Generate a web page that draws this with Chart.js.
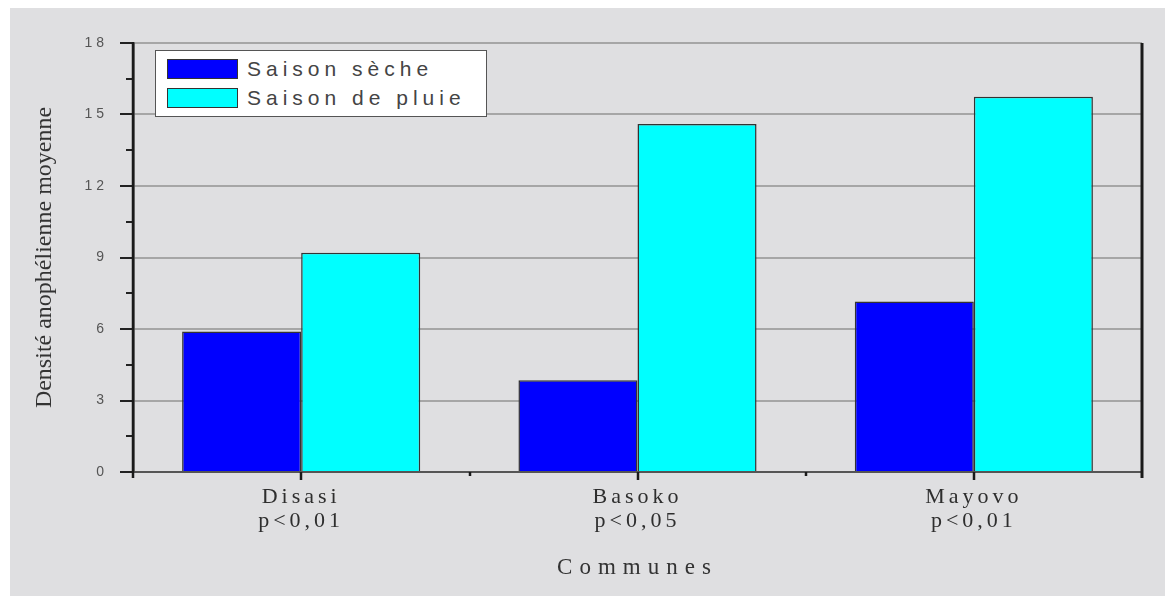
<!DOCTYPE html>
<html lang="fr">
<head>
  <meta charset="UTF-8">
  <title>Densité anophélienne moyenne par commune</title>
  <script src="https://cdn.jsdelivr.net/npm/chart.js"></script>
  <style>
    html, body { margin: 0; padding: 0; background: #fff; }
    .wrap { position: relative; width: 1175px; height: 599px; }
    #legend {
      position: absolute;
      left: 155px; top: 50px;
      width: 332px; height: 67px;
      box-sizing: border-box;
      background: #fff;
      border: 1.5px solid #555;
      padding: 8px 0 0 11px;
    }
    .row { display: flex; align-items: center; height: 20px; margin-bottom: 9px; }
    .sw { width: 71px; height: 20px; box-sizing: border-box; border: 1.5px solid #333; margin-right: 9px; }
    .row span {
      font-family: "Liberation Sans", Arial, sans-serif;
      font-size: 21px; letter-spacing: 5px; color: #444; line-height: 20px;
    }
  </style>
</head>
<body>
<div class="wrap">
  <canvas id="chart" width="1175" height="599"></canvas>
  <div id="legend"></div>
</div>

<script>
// données
const communes = ['Disasi', 'Basoko', 'Mayovo'];
const pValeurs = ['p<0,01', 'p<0,05', 'p<0,01'];
const saisonSeche = [5.9, 3.85, 7.15];
const saisonPluie = [9.2, 14.6, 15.75];
const yTicks = [0, 3, 6, 9, 12, 15, 18];

const couleurs = ['#0000ff', '#00ffff'];
const series = ['Saison sèche', 'Saison de pluie'];

// espacement des lettres pour les textes d'axes
function spacing(scale, labelsLs, titleLs) {
  if (scale._lsDone) return;
  scale._lsDone = true;
  const ctx = scale.ctx;
  const dl = scale.drawLabels, dt = scale.drawTitle;
  scale.drawLabels = function (a) { ctx.save(); ctx.letterSpacing = labelsLs; dl.call(this, a); ctx.restore(); };
  scale.drawTitle = function (a) { ctx.save(); ctx.letterSpacing = titleLs; dt.call(this, a); ctx.restore(); };
}

const decor = {
  id: 'decor',
  beforeDraw(chart) {
    const ctx = chart.ctx;
    ctx.save();
    ctx.fillStyle = '#ffffff';
    ctx.fillRect(0, 0, chart.width, chart.height);
    ctx.fillStyle = '#dfdfe1';
    ctx.fillRect(10, 8, 1155, 588);
    ctx.restore();
    spacing(chart.scales.y, '4px', '0px');
    spacing(chart.scales.x, '4px', '7px');
  },
  afterDraw(chart) {
    const ctx = chart.ctx, a = chart.chartArea;
    const x = chart.scales.x, y = chart.scales.y;
    ctx.save();
    // petites graduations y
    ctx.strokeStyle = '#222';
    ctx.lineWidth = 2;
    for (let i = 0; i < yTicks.length - 1; i++) {
      const py = Math.round(y.getPixelForValue((yTicks[i] + yTicks[i + 1]) / 2));
      ctx.beginPath(); ctx.moveTo(a.left - 7, py); ctx.lineTo(a.left, py); ctx.stroke();
    }
    // axe x
    ctx.strokeStyle = '#555';
    ctx.lineWidth = 2;
    ctx.beginPath(); ctx.moveTo(a.left, a.bottom); ctx.lineTo(a.right, a.bottom); ctx.stroke();
    ctx.strokeStyle = '#1a1a1a';
    ctx.lineWidth = 2.5;
    communes.forEach((c, i) => {
      const px = Math.round(x.getPixelForValue(i));
      ctx.beginPath(); ctx.moveTo(px, a.bottom); ctx.lineTo(px, a.bottom + 8); ctx.stroke();
      if (i > 0) {
        const bx = Math.round((x.getPixelForValue(i - 1) + px) / 2);
        ctx.beginPath(); ctx.moveTo(bx, a.bottom); ctx.lineTo(bx, a.bottom + 4); ctx.stroke();
      }
    });
    // axes gauche et droit
    ctx.lineWidth = 2.5;
    ctx.beginPath(); ctx.moveTo(a.left, a.top); ctx.lineTo(a.left, a.bottom + 6); ctx.stroke();
    ctx.lineWidth = 3;
    ctx.beginPath(); ctx.moveTo(a.right, a.top); ctx.lineTo(a.right, a.bottom + 6); ctx.stroke();
    ctx.restore();
  }
};

const chart = new Chart(document.getElementById('chart'), {
  type: 'bar',
  data: {
    labels: communes.map((c, i) => [c, pValeurs[i]]),
    datasets: [
      { label: series[0], data: saisonSeche, backgroundColor: couleurs[0] },
      { label: series[1], data: saisonPluie, backgroundColor: couleurs[1] }
    ]
  },
  options: {
    responsive: false,
    animation: false,
    layout: { padding: { left: 30, top: 43, right: 33, bottom: 17 } },
    datasets: {
      bar: { categoryPercentage: 0.708, barPercentage: 1.0, borderColor: '#333', borderWidth: 1.5 }
    },
    plugins: {
      legend: { display: false },
      tooltip: { enabled: false }
    },
    scales: {
      x: {
        grid: { display: false, drawTicks: false },
        border: { display: false },
        afterFit(s) { s.height = 110; },
        ticks: {
          padding: 13,
          color: '#2e2e2e',
          font: { family: '"Liberation Serif", serif', size: 22, lineHeight: 1.1 }
        },
        title: {
          display: true,
          text: 'Communes',
          color: '#333',
          padding: 0,
          font: { family: '"Liberation Serif", serif', size: 23 }
        }
      },
      y: {
        min: yTicks[0],
        max: yTicks[yTicks.length - 1],
        afterBuildTicks(s) { s.ticks = yTicks.map(v => ({ value: v })); },
        afterFit(s) { s.width = 103; },
        grid: { color: '#a6a6a6', lineWidth: 2, tickColor: '#222', tickLength: 13 },
        border: { display: true, color: '#1a1a1a', width: 2.5 },
        ticks: {
          padding: 12,
          color: '#555',
          font: { family: '"Liberation Sans", Arial, sans-serif', size: 14 }
        },
        title: {
          display: true,
          text: 'Densité anophélienne moyenne',
          color: '#333',
          padding: 0,
          font: { family: '"Liberation Serif", serif', size: 24 }
        }
      }
    }
  },
  plugins: [decor]
});

// légende
const leg = document.getElementById('legend');
chart.data.datasets.forEach(ds => {
  const row = document.createElement('div');
  row.className = 'row';
  const sw = document.createElement('div');
  sw.className = 'sw';
  sw.style.background = ds.backgroundColor;
  const t = document.createElement('span');
  t.textContent = ds.label;
  row.appendChild(sw);
  row.appendChild(t);
  leg.appendChild(row);
});
</script>
</body>
</html>
